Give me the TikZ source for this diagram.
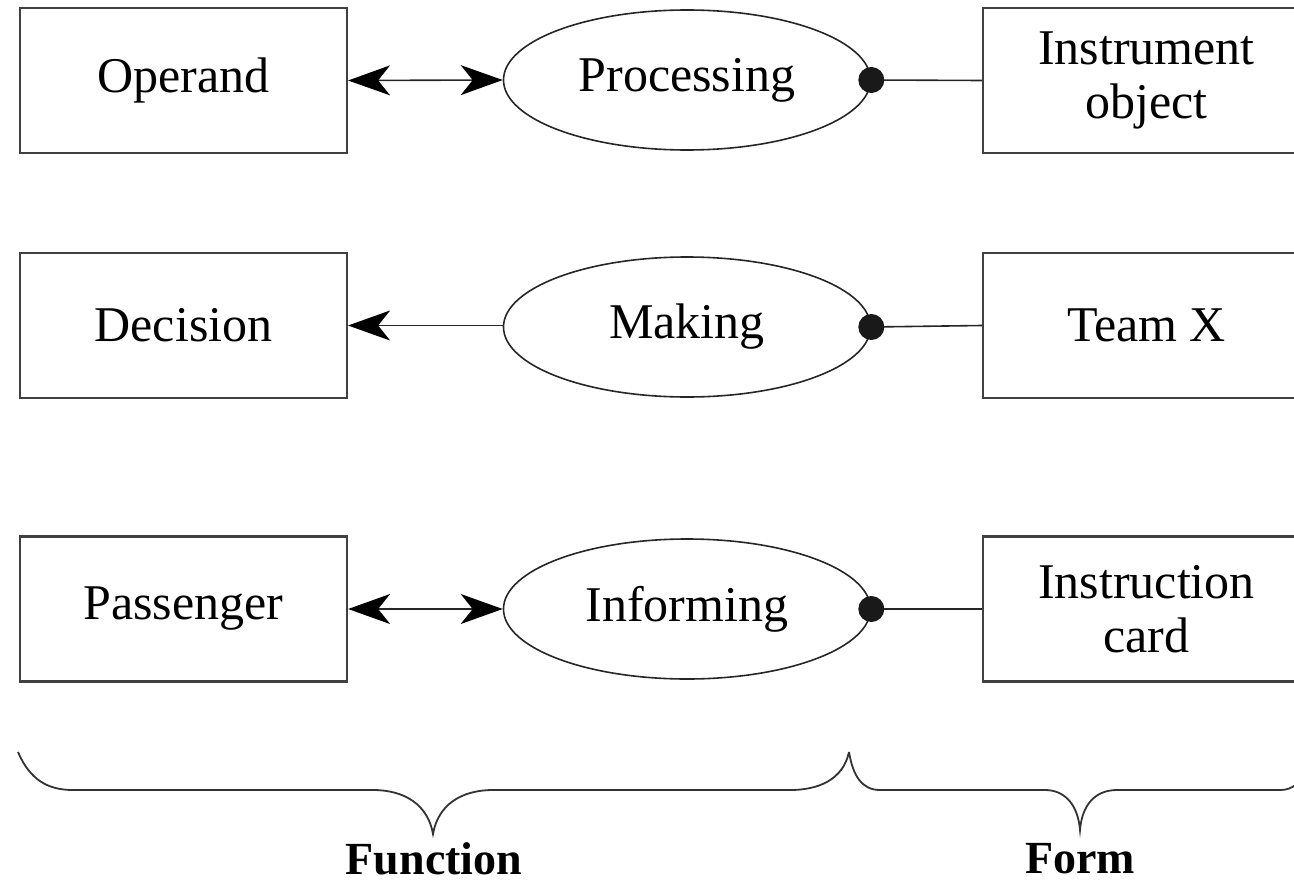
\documentclass[tikz,border=0pt]{standalone}
\usepackage{fontspec}
\setmainfont{Liberation Serif}
\usetikzlibrary{arrows.meta,shapes.geometric}
\begin{document}
\begin{tikzpicture}[x=0.5pt,y=-0.5pt,
  every node/.style={font=\fontsize{25}{27}\selectfont, align=center, inner sep=0pt},
  box/.style={draw=black!75, line width=1.1pt, minimum width=163.5pt, minimum height=72.5pt},
  proc/.style={draw=black!85, ellipse, line width=0.8pt, minimum width=183.5pt, minimum height=70pt},
  link/.style={draw=black!85, line width=0.8pt},
  tip/.tip={Stealth[length=21pt, width=15pt, inset=6pt, black]},
  brace/.style={draw=black!80, line width=0.9pt},
  side/.style={font=\fontsize{23}{23}\selectfont\bfseries}
]
\clip (0,0) rectangle (1294,883);

% function (left) boxes
\node[box] (operand)   at (183.5, 80.5) {Operand};
\node[box] (decision)  at (183.5,325.5) {Decision};
\node[box] (passenger) at (183.5,609)   {Passenger};

% processes
\node[proc] (processing) at (687, 80)  {Processing};
\node[proc] (making)     at (687,327)  {Making};
\node[proc] (informing)  at (687,609)  {Informing};

% form (right) boxes, running past the right edge
\node[box] (instrument) at (1146.5, 80.5) {Instrument\\object};
\node[box] (team)       at (1146.5,325.5) {Team X};
\node[box] (card)       at (1146.5,609)   {Instruction\\card};

% operand links
\draw[link, tip-tip] (operand.east) -- (processing.west);
\draw[link, tip-] (decision.east) -- (making.west |- decision.east);
\draw[link, tip-tip] (passenger.east) -- (informing.west);

% instrument links with dot ends
\draw[link] (processing.east) -- (instrument.west);
\draw[link] (making.east) -- (team.west);
\draw[link] (informing.east) -- (card.west);
\fill[black!90] (processing.east) circle (6.5pt);
\fill[black!90] (making.east) circle (6.5pt);
\fill[black!90] (informing.east) circle (6.5pt);

% braces
\draw[brace] (18,752) .. controls (30,780) and (48,790) .. (73,790) -- (373,790)
  .. controls (405,790) and (428,805) .. (433,834)
  .. controls (438,805) and (461,790) .. (493,790) -- (790,790)
  .. controls (818,790) and (843,780) .. (849,752);
\draw[brace] (849,752) .. controls (853,776) and (862,790) .. (880,790) -- (1045,790)
  .. controls (1065,790) and (1078,805) .. (1080,830)
  .. controls (1082,805) and (1095,790) .. (1117,790) -- (1280,790)
  .. controls (1292,790) and (1302,784) .. (1310,760);

\node[side] (function) at (434,859) {Function};
\node[side] (form) at (1080,859) {Form};
\end{tikzpicture}
\end{document}
